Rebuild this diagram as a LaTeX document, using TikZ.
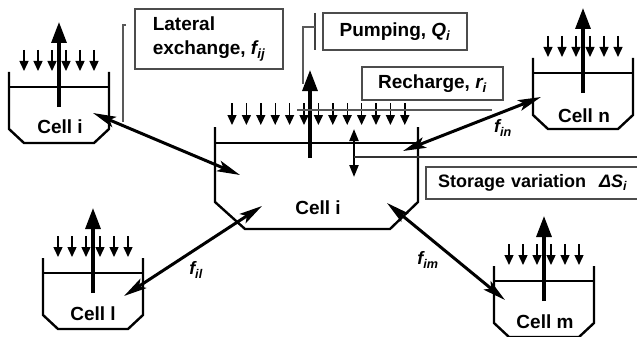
\documentclass[tikz,border=0pt]{standalone}
\usepackage{fontspec}
\setmainfont{Liberation Sans}
\usetikzlibrary{arrows.meta}
\begin{document}
\begin{tikzpicture}[x=1pt,y=-1pt,
  wall/.style={line width=2.4pt, line join=miter},
  waterline/.style={line width=1.7pt},
  rain/.style={line width=1.4pt, -{Triangle[length=10pt,width=9pt]}},
  evap/.style={line width=3.2pt, -{Triangle[length=21pt,width=15pt]}},
  lateral/.style={line width=3pt,
    {Stealth[length=23pt,width=11pt,inset=5pt]}-{Stealth[length=23pt,width=11pt,inset=5pt]}},
  storagearrow/.style={line width=2.2pt,
    {Triangle[length=12pt,width=9pt]}-{Triangle[length=12pt,width=9pt]}},
  leader/.style={line width=1.4pt, draw=black!65},
  labelbox/.style={draw=black!70, line width=1.6pt, inner sep=0pt, align=left,
    font=\fontsize{19}{24}\selectfont\bfseries},
  celltext/.style={font=\fontsize{19}{22}\selectfont\bfseries, inner sep=0pt},
  flux/.style={font=\fontsize{18}{20}\selectfont\bfseries\itshape, inner sep=0pt},
  tank/.pic={
    \draw[wall] (0,0) -- (0,57) -- (15,71) -- (85,71) -- (100,57) -- (100,0);
    \draw[waterline] (0,15) -- (100,15);
    \foreach \k in {0,...,5} \draw[rain] (15+14*\k,-22) -- (15+14*\k,-1);
    \draw[evap] (50,35) -- (50,-50);
  }]
\useasboundingbox (0,0) rectangle (637,337);

% surrounding cells
\pic at (9,72) {tank};
\pic at (533,58) {tank};
\pic at (43,258) {tank};
\pic at (494,266) {tank};
\node[celltext] (celli) at (60,127) {Cell i};
\node[celltext] (celln) at (584,116) {Cell n};
\node[celltext] (celll) at (93,314) {Cell l};
\node[celltext] (cellm) at (545,322) {Cell m};

% central cell
\draw[wall] (215,127) -- (215,202) -- (245,229) -- (390,229) -- (418,202) -- (418,127);
\draw[waterline] (215,143) -- (418,143);
\foreach \k in {0,...,12} \draw[rain] (232+14.4*\k,103) -- (232+14.4*\k,125);
\draw[evap] (310,158) -- (310,70);
\node[celltext] (center) at (318,208) {Cell i};

% storage variation arrow and its leader
\coordinate (stop) at (354,129);
\coordinate (sbot) at (354,177);
\draw[storagearrow] (stop) -- (sbot);
\coordinate (sleadA) at (354,157);
\coordinate (sleadB) at (640,157);
\draw[line width=1.6pt, black!80] (sleadA) -- (sleadB);

% label boxes
\node[labelbox, minimum width=148pt, minimum height=60pt] (lat) at (209,39)
  {Lateral\\exchange, {\itshape f\textsubscript{ij}}};
\node[labelbox, minimum width=144pt, minimum height=37pt] (pump) at (395,31.5)
  {Pumping, {\itshape Q\textsubscript{i}}};
\node[labelbox, minimum width=141pt, minimum height=33pt] (rech) at (432.5,83.5)
  {Recharge, {\itshape r\textsubscript{i}}};
\node[labelbox, font=\fontsize{18}{22}\selectfont\bfseries, minimum height=32pt,
      inner xsep=12pt, text width=199pt] (stor) at (537.5,183)
  {Storage variation\hspace{13pt}{\itshape ΔS\textsubscript{i}}};

% leader lines
\coordinate (latA) at (126,25);
\coordinate (latB) at (123,25);
\coordinate (latC) at (123,122);
\draw[leader] (latA) -- (latB) -- (latC);
\coordinate (pbarA) at (315,13);
\coordinate (pbarB) at (315,50);
\draw[line width=1.9pt, black!75] (pbarA) -- (pbarB);
\coordinate (pA) at (315,27);
\coordinate (pB) at (303,27);
\coordinate (pC) at (303,84);
\draw[leader] (pA) -- (pB) -- (pC);
\coordinate (rA) at (297,110);
\coordinate (rB) at (492,110);
\draw[leader] (rA) -- (rB);

% lateral exchange arrows
\coordinate (e1a) at (93,113);  \coordinate (e1b) at (240,175);
\coordinate (e2a) at (403,151); \coordinate (e2b) at (541,97);
\coordinate (e3a) at (124,296); \coordinate (e3b) at (262,206);
\coordinate (e4a) at (387,203); \coordinate (e4b) at (505,300);
\draw[lateral] (e1a) -- (e1b);
\draw[lateral] (e2a) -- (e2b);
\draw[lateral] (e3a) -- (e3b);
\draw[lateral] (e4a) -- (e4b);
\node[flux] (fin) at (503,128) {f\textsubscript{in}};
\node[flux] (fil) at (196,270) {f\textsubscript{il}};
\node[flux] (fim) at (428,260) {f\textsubscript{im}};
\end{tikzpicture}
\end{document}
